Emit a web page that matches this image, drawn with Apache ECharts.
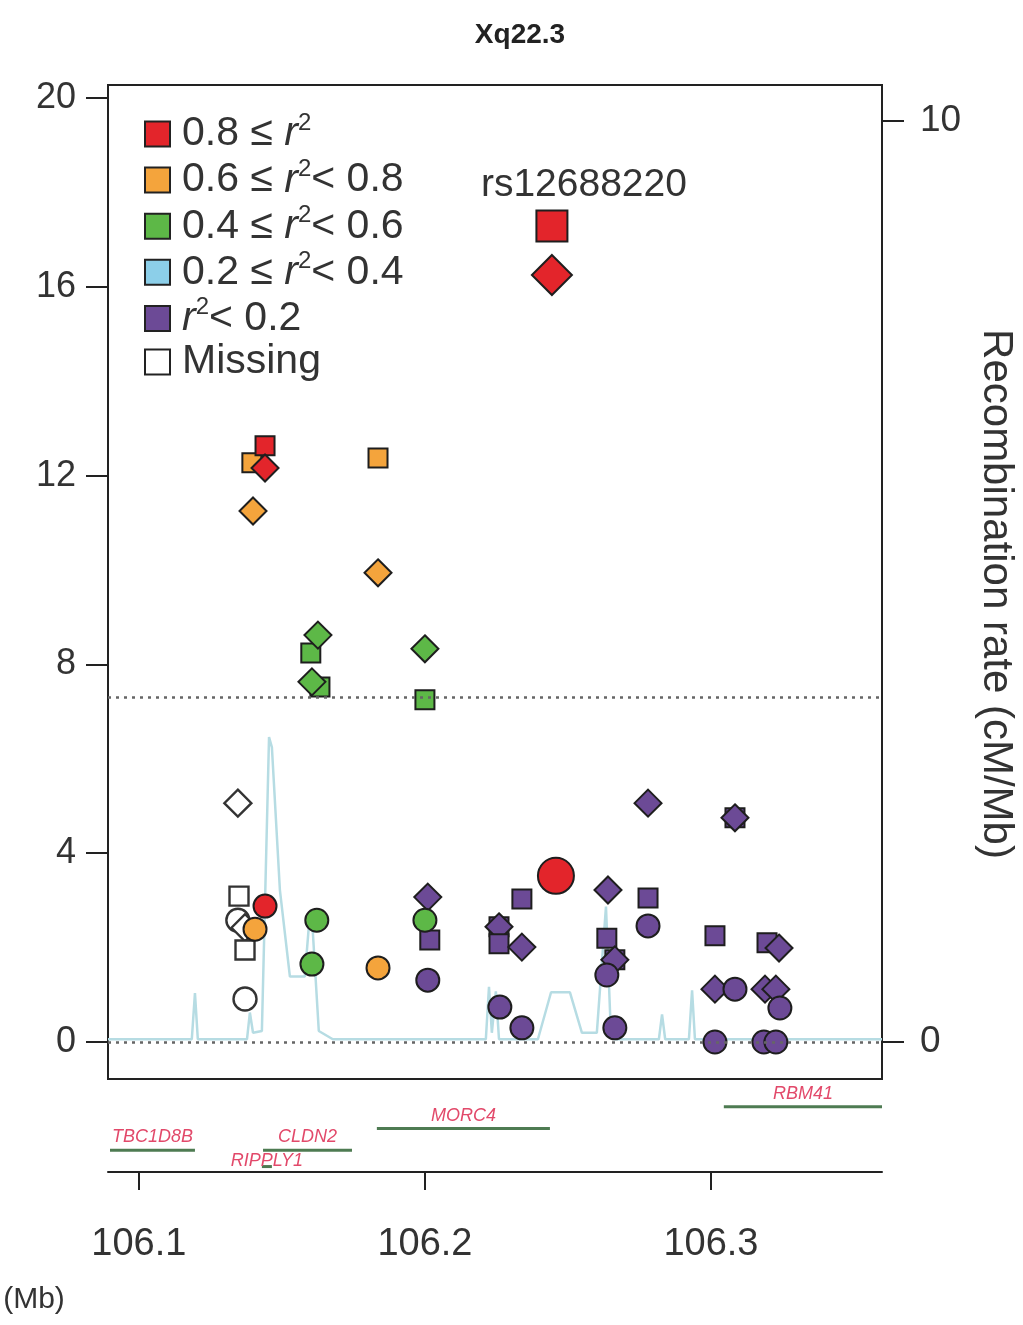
<!DOCTYPE html>
<html><head><meta charset="utf-8">
<script src="https://cdn.jsdelivr.net/npm/echarts@6/dist/echarts.min.js"></script>
<style>html,body{margin:0;padding:0;background:#fff}#c{width:1023px;height:1325px}</style>
</head><body><div id="c"></div>
<script>
const FONT = '"Liberation Sans", Arial, Helvetica, sans-serif';

// ---- data (x: position in Mb, y: -log10 P) ----
const leadName = 'rs12688220';

const redX = [106.2444, 106.2444, 106.2458, 106.1441, 106.1441, 106.1441];
const redY = [17.29, 16.25, 3.52, 12.63, 12.16, 2.88];
const redShape = ['square', 'diamond', 'circle', 'square', 'diamond', 'circle'];
const redLead = [1, 1, 1, 0, 0, 0];

const orangeX = [106.1395, 106.1836, 106.1399, 106.1836, 106.1406, 106.1836];
const orangeY = [12.27, 12.37, 11.25, 9.94, 2.39, 1.57];
const orangeShape = ['square', 'square', 'diamond', 'diamond', 'circle', 'circle'];

const greenX = [106.1601, 106.1633, 106.2000, 106.1626, 106.1605, 106.2000, 106.1622, 106.1605, 106.2000];
const greenY = [8.24, 7.52, 7.25, 8.62, 7.63, 8.33, 2.58, 1.65, 2.58];
const greenShape = ['square', 'square', 'square', 'diamond', 'diamond', 'diamond', 'circle', 'circle', 'circle'];

const blueX = [];
const blueY = [];
const blueShape = [];

const purpleX = [106.2010, 106.2017, 106.2010, 106.2339, 106.2259, 106.2259, 106.2259, 106.2339, 106.2262, 106.2339,
                 106.2640, 106.2636, 106.2664, 106.2664, 106.2636, 106.2664, 106.2780, 106.2780, 106.2780,
                 106.3084, 106.3084, 106.3014, 106.3196, 106.3238, 106.3014, 106.3084, 106.3189, 106.3227,
                 106.3241, 106.3014, 106.3185, 106.3227];
const purpleY = [3.07, 2.16, 1.31, 3.03, 2.44, 2.44, 2.08, 2.01, 0.74, 0.30,
                 3.22, 2.20, 1.74, 1.74, 1.42, 0.30, 3.05, 2.46, 5.06,
                 4.75, 4.75, 2.25, 2.10, 1.99, 1.12, 1.12, 1.12, 1.12,
                 0.72, 0.00, 0.00, 0.00];
const purpleShape = ['diamond', 'square', 'circle', 'square', 'square', 'diamond', 'square', 'diamond', 'circle', 'circle',
                     'diamond', 'square', 'square', 'diamond', 'circle', 'circle', 'square', 'circle', 'diamond',
                     'square', 'diamond', 'square', 'square', 'diamond', 'diamond', 'circle', 'diamond', 'diamond',
                     'circle', 'circle', 'circle', 'circle'];

const missX = [106.1346, 106.1350, 106.1346, 106.1371, 106.1371, 106.1371];
const missY = [5.06, 3.09, 2.58, 2.42, 1.95, 0.91];
const missShape = ['diamond', 'square', 'circle', 'diamond', 'square', 'circle'];

// recombination rate (cM/Mb)
const recX = [106.0892, 106.1185, 106.1196, 106.1206, 106.1378, 106.1388, 106.1399, 106.1430, 106.1455, 106.1465,
              106.1493, 106.1528, 106.1580, 106.1594, 106.1608, 106.1629, 106.1678, 106.2213, 106.2224, 106.2234,
              106.2248, 106.2259, 106.2395, 106.2441, 106.2507, 106.2549, 106.2601, 106.2633, 106.2650, 106.2661,
              106.2818, 106.2829, 106.2840, 106.2923, 106.2934, 106.2944, 106.3598];
const recY = [0.03, 0.03, 0.53, 0.03, 0.03, 0.32, 0.10, 0.12, 3.31, 3.20,
              1.65, 0.71, 0.71, 1.25, 1.20, 0.12, 0.03, 0.03, 0.60, 0.10,
              0.55, 0.03, 0.03, 0.54, 0.54, 0.10, 0.10, 1.47, 0.10, 0.03,
              0.03, 0.30, 0.03, 0.03, 0.56, 0.03, 0.03];

// genes
const geneNames = ['TBC1D8B', 'RIPPLY1', 'CLDN2', 'MORC4', 'RBM41'];
const geneStart = [106.0899, 106.1430, 106.1434, 106.1832, 106.3045];
const geneEnd = [106.1196, 106.1465, 106.1745, 106.2437, 106.3598];
const geneRow = [1, 0.25, 1, 2, 3];

const leftTicks = [0, 4, 8, 12, 16, 20];
const rightTicks = [0, 10];
const xTicks = [106.1, 106.2, 106.3];
const sigLine = 7.3;

// ---- styling ----
const X_MIN = 106.0892, X_MAX = 106.3598;
const colors = {r8: '#e3252b', r6: '#f4a43c', r4: '#5db847', r2: '#8ccfe9', r0: '#6c4a96', miss: '#ffffff'};
const legendText = {
  r8: '0.8 \u2264 {i|r}{s|2}',
  r6: '0.6 \u2264 {i|r}{s|2}< 0.8',
  r4: '0.4 \u2264 {i|r}{s|2}< 0.6',
  r2: '0.2 \u2264 {i|r}{s|2}< 0.4',
  r0: '{i|r}{s|2}< 0.2',
  miss: 'Missing'
};
const symMap = {square: 'rect', diamond: 'diamond', circle: 'circle'};
const sizeNormal = {square: 19, diamond: 27, circle: 23};
const sizeLead = {square: 31, diamond: 40, circle: 36};

function buildData(xs, ys, shapes, lead) {
  return xs.map((x, i) => {
    const sh = shapes[i];
    const isLead = lead && lead[i];
    const item = {
      value: [x, ys[i]],
      symbol: symMap[sh],
      symbolSize: isLead ? sizeLead[sh] : sizeNormal[sh]
    };
    if (isLead && sh === 'square') {
      item.label = {
        show: true, position: 'top', distance: 5, offset: [32, 0],
        formatter: leadName, fontSize: 39, color: '#333', fontFamily: FONT
      };
    }
    return item;
  });
}

function scatter(key, xs, ys, shapes, lead, extra) {
  return Object.assign({
    name: key, type: 'scatter', xAxisIndex: 0, yAxisIndex: 0,
    data: buildData(xs, ys, shapes, lead),
    itemStyle: {color: colors[key], borderColor: key === 'miss' ? '#333' : '#1e1e1e', borderWidth: key === 'miss' ? 2.4 : 2, opacity: 1},
    emphasis: {disabled: true},
    z: 3
  }, extra || {});
}

const chart = echarts.init(document.getElementById('c'), null, {renderer: 'canvas'});
const option = {
  animation: false,
  backgroundColor: '#fff',
  textStyle: {fontFamily: FONT},
  grid: [
    {left: 108, right: 141, top: 85, height: 994, show: true, borderColor: '#222', borderWidth: 2, backgroundColor: 'transparent'},
    {left: 108, right: 141, top: 1085, height: 87}
  ],
  xAxis: [
    {type: 'value', gridIndex: 0, min: X_MIN, max: X_MAX, show: false},
    {type: 'value', gridIndex: 1, min: X_MIN, max: X_MAX,
      axisLine: {show: true, onZero: false, lineStyle: {color: '#222', width: 2}},
      axisTick: {show: true, length: 18, lineStyle: {color: '#222', width: 2}, customValues: xTicks},
      axisLabel: {customValues: xTicks, formatter: v => v.toFixed(1), fontSize: 38, color: '#333', margin: 54, fontFamily: FONT},
      splitLine: {show: false}}
  ],
  yAxis: [
    {type: 'value', gridIndex: 0, position: 'left', min: -0.784, max: 20.275,
      axisLine: {show: true, lineStyle: {color: '#222', width: 2}},
      axisTick: {show: true, length: 22, lineStyle: {color: '#222', width: 2}, customValues: leftTicks},
      axisLabel: {customValues: leftTicks, fontSize: 36, color: '#333', margin: 32, fontFamily: FONT},
      splitLine: {show: false}},
    {type: 'value', gridIndex: 0, position: 'right', min: -0.4017, max: 10.391,
      axisLine: {show: true, lineStyle: {color: '#222', width: 2}},
      axisTick: {show: true, length: 22, lineStyle: {color: '#222', width: 2}, customValues: rightTicks},
      axisLabel: {customValues: rightTicks, fontSize: 37, color: '#333', margin: 38, fontFamily: FONT},
      splitLine: {show: false}},
    {type: 'value', gridIndex: 1, min: 0, max: 4, show: false}
  ],
  legend: {
    orient: 'vertical', left: 139, top: 106,
    itemWidth: 25, itemHeight: 25, itemGap: 2.6,
    icon: 'rect', selectedMode: false,
    data: ['r8', 'r6', 'r4', 'r2', 'r0', 'miss'],
    formatter: n => legendText[n],
    itemStyle: {borderColor: '#222', borderWidth: 2},
    textStyle: {
      fontSize: 41, color: '#333', fontFamily: FONT, padding: [0, 0, 0, 7],
      rich: {
        i: {fontSize: 41, fontStyle: 'italic', color: '#333', fontFamily: FONT},
        s: {fontSize: 24, color: '#333', fontFamily: FONT, padding: [0, 0, 22, 0]}
      }
    }
  },
  graphic: [
    {type: 'text', x: 520, y: 35, style: {text: 'Xq22.3', font: 'bold 28px ' + FONT, fill: '#222', align: 'center', verticalAlign: 'middle'}},
    {type: 'text', x: 34, y: 1300, style: {text: '(Mb)', font: '30px ' + FONT, fill: '#333', align: 'center', verticalAlign: 'middle'}},
    {type: 'text', x: 996, y: 594, rotation: -Math.PI / 2,
      style: {text: 'Recombination rate (cM/Mb)', font: '42px ' + FONT, fill: '#333', align: 'center', verticalAlign: 'middle'}}
  ],
  series: [
    {name: 'recomb', type: 'line', xAxisIndex: 0, yAxisIndex: 1, data: recX.map((x, i) => [x, recY[i]]),
      showSymbol: false, symbol: 'none', lineStyle: {color: '#b6dce3', width: 2.5}, z: 1, silent: true},
    scatter('miss', missX, missY, missShape, null, {
      markLine: {silent: true, symbol: ['none', 'none'], label: {show: false},
        lineStyle: {type: [3, 5], color: '#666', width: 2.5},
        data: [{yAxis: sigLine}, {yAxis: 0}]}
    }),
    scatter('r0', purpleX, purpleY, purpleShape),
    scatter('r2', blueX, blueY, blueShape),
    scatter('r4', greenX, greenY, greenShape),
    scatter('r6', orangeX, orangeY, orangeShape),
    scatter('r8', redX, redY, redShape, redLead),
    {name: 'genes', type: 'custom', xAxisIndex: 1, yAxisIndex: 2, clip: false, silent: true,
      data: geneNames.map((g, i) => [geneStart[i], geneEnd[i], geneRow[i]]),
      renderItem: function (params, api) {
        const row = api.value(2);
        const s = api.coord([api.value(0), row]);
        const e = api.coord([api.value(1), row]);
        return {type: 'group', children: [
          {type: 'line', shape: {x1: s[0], y1: s[1], x2: e[0], y2: e[1]}, style: {stroke: '#4e7b52', lineWidth: 3}},
          {type: 'text', x: (s[0] + e[0]) / 2, y: s[1] - (row < 1 ? 6 : 13),
            style: {text: geneNames[params.dataIndex], fill: '#e2496a', font: 'italic 18px ' + FONT, align: 'center', verticalAlign: 'middle'}}
        ]};
      }}
  ]
};
chart.setOption(option);
</script>
</body></html>
